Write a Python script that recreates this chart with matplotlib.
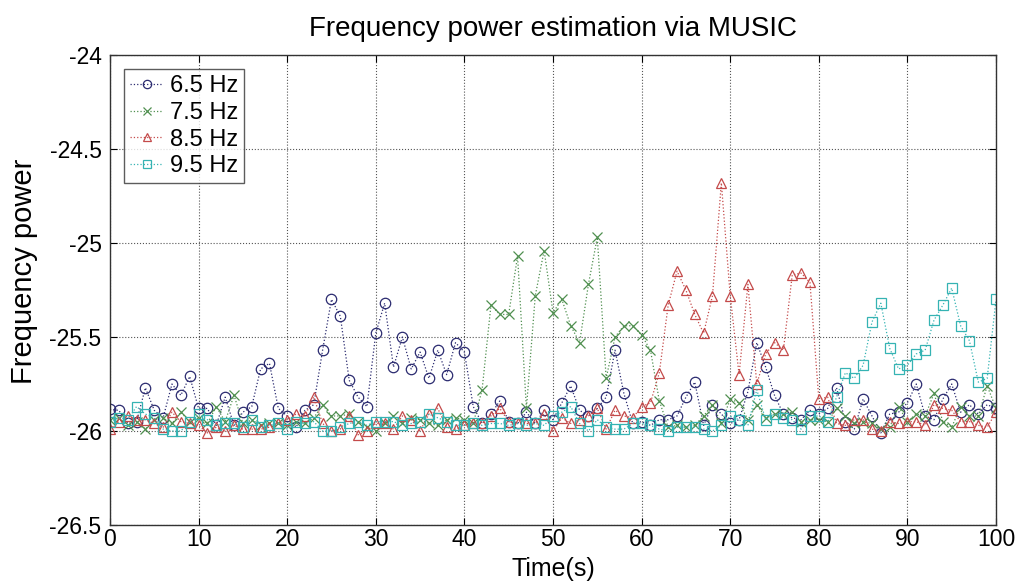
import numpy as np
import matplotlib
matplotlib.use("Agg")
import matplotlib.pyplot as plt

plt.rcParams['font.family'] = ['Liberation Sans', 'DejaVu Sans']

time_s = list(range(0, 101))

power_65 = [
    -25.885, -25.89, -25.96, -25.95, -25.77, -25.89, -25.93, -25.75, -25.81, -25.71,
    -25.88, -25.88, -25.97, -25.82, -25.97, -25.90, -25.87, -25.67, -25.64, -25.88,
    -25.92, -25.98, -25.89, -25.86, -25.57, -25.30, -25.39, -25.73, -25.82, -25.87,
    -25.48, -25.32, -25.66, -25.50, -25.67, -25.58, -25.72, -25.57, -25.70, -25.53,
    -25.58, -25.87, -25.96, -25.91, -25.84, -25.95, -25.96, -25.90, -25.96, -25.89,
    -25.94, -25.85, -25.76, -25.89, -25.92, -25.88, -25.82, -25.57, -25.80, -25.96,
    -25.95, -25.97, -25.94, -25.94, -25.92, -25.82, -25.74, -25.97, -25.86, -25.91,
    -25.96, -25.94, -25.79, -25.53, -25.66, -25.81, -25.91, -25.93, -25.94, -25.89,
    -25.91, -25.88, -25.77, -25.95, -25.99, -25.83, -25.92, -26.01, -25.91, -25.90,
    -25.85, -25.75, -25.92, -25.94, -25.83, -25.75, -25.90, -25.86, -25.91, -25.86,
    -25.88,
]

power_75 = [
    -25.94, -25.93, -25.97, -25.95, -25.99, -25.94, -25.93, -25.96, -25.90, -25.95,
    -25.93, -25.96, -25.87, -25.95, -25.81, -25.96, -25.94, -25.97, -25.96, -25.96,
    -25.97, -25.95, -25.96, -25.93, -25.86, -25.92, -25.92, -25.91, -25.95, -25.98,
    -26.00, -25.96, -25.92, -25.96, -25.93, -25.94, -25.96, -25.97, -25.94, -25.93,
    -25.94, -25.96, -25.78, -25.33, -25.38, -25.38, -25.07, -25.88, -25.28, -25.04,
    -25.37, -25.30, -25.44, -25.53, -25.22, -24.97, -25.72, -25.50, -25.44, -25.44,
    -25.49, -25.57, -25.84, -25.98, -25.97, -25.98, -25.97, -25.92, -25.86, -25.96,
    -25.83, -25.85, -25.94, -25.86, -25.93, -25.91, -25.91, -25.90, -25.95, -25.94,
    -25.94, -25.95, -25.88, -25.92, -25.96, -25.95, -25.96, -25.99, -25.98, -25.87,
    -25.95, -25.91, -25.92, -25.80, -25.95, -25.98, -25.87, -25.92, -25.92, -25.76,
    -25.88,
]

power_85 = [
    -25.99, -25.95, -25.92, -25.94, -25.94, -25.96, -25.98, -25.90, -25.95, -25.96,
    -25.97, -26.01, -25.98, -26.00, -25.97, -25.99, -25.99, -25.99, -25.98, -25.96,
    -25.94, -25.91, -25.92, -25.82, -25.96, -26.00, -25.99, -25.92, -26.02, -26.00,
    -25.96, -25.96, -25.99, -25.92, -25.94, -26.00, -25.91, -25.88, -25.98, -25.99,
    -25.97, -25.96, -25.96, -25.92, -25.88, -25.95, -25.96, -25.96, -25.96, -25.91,
    -26.00, -25.93, -25.96, -25.94, -25.92, -25.88, -25.99, -25.89, -25.92, -25.93,
    -25.87, -25.85, -25.69, -25.33, -25.15, -25.25, -25.38, -25.48, -25.28, -24.68,
    -25.28, -25.70, -25.22, -25.75, -25.59, -25.53, -25.57, -25.17, -25.16, -25.21,
    -25.83, -25.82, -25.96, -25.97, -25.94, -25.94, -25.99, -26.00, -25.95, -25.96,
    -25.95, -25.95, -25.97, -25.86, -25.88, -25.89, -25.95, -25.95, -25.97, -25.98,
    -25.90,
]

power_95 = [
    -25.95, -25.93, -25.94, -25.87, -25.91, -25.93, -25.99, -26.00, -26.00, -25.95,
    -25.91, -25.94, -25.97, -25.96, -25.96, -25.98, -25.94, -25.98, -25.97, -25.96,
    -25.99, -25.95, -25.96, -25.95, -26.00, -26.00, -25.98, -25.96, -25.95, -25.97,
    -25.95, -25.95, -25.95, -25.97, -25.96, -25.95, -25.91, -25.93, -25.95, -25.97,
    -25.97, -25.96, -25.97, -25.96, -25.96, -25.97, -25.96, -25.97, -25.96, -25.97,
    -25.92, -25.90, -25.87, -25.96, -26.00, -25.94, -25.98, -25.99, -25.99, -25.96,
    -25.96, -25.97, -25.99, -26.00, -25.98, -25.98, -25.98, -25.99, -26.00, -25.97,
    -25.92, -25.94, -25.97, -25.78, -25.94, -25.91, -25.93, -25.94, -25.99, -25.92,
    -25.92, -25.95, -25.82, -25.69, -25.72, -25.65, -25.42, -25.32, -25.56, -25.67,
    -25.65, -25.59, -25.57, -25.41, -25.33, -25.24, -25.44, -25.52, -25.74, -25.72,
    -25.30,
]

series_labels = ['6.5 Hz', '7.5 Hz', '8.5 Hz', '9.5 Hz']
x_ticks = list(range(0, 101, 10))
y_ticks = [-26.5, -26, -25.5, -25, -24.5, -24]
y_tick_labels = ['-26.5', '-26', '-25.5', '-25', '-24.5', '-24']

styles = [
    dict(marker='o', color='#2b2b70'),
    dict(marker='x', color='#4f8f4f'),
    dict(marker='^', color='#c44a4a'),
    dict(marker='s', color='#35b3b3'),
]

fig = plt.figure(figsize=(10.2, 5.86), dpi=100)
ax = fig.add_axes([0.1078, 0.1041, 0.8687, 0.8020])

for vals, lab, st in zip([power_65, power_75, power_85, power_95], series_labels, styles):
    ax.plot(time_s, vals, linestyle=':', linewidth=0.9, color=st['color'],
            marker=st['marker'], markersize=7.5, markerfacecolor='none',
            markeredgecolor=st['color'], markeredgewidth=0.9, label=lab)

ax.set_xlim(0, 100)
ax.set_ylim(-26.5, -24)
ax.set_xticks(x_ticks)
ax.set_xticklabels([str(t) for t in x_ticks])
ax.set_yticks(y_ticks)
ax.set_yticklabels(y_tick_labels)
ax.tick_params(direction='in', top=True, right=True, length=5, width=0.8,
               labelsize=16.5)
ax.tick_params(axis='x', pad=2)
ax.tick_params(axis='y', pad=6)
ax.grid(True, linestyle=':', color='#555555', linewidth=0.8)
for sp in ax.spines.values():
    sp.set_linewidth(1.0)
    sp.set_color('#333333')

ax.set_xlabel('Time(s)', fontsize=18, va='top')
ax.xaxis.set_label_coords(0.5, -0.068)
ax.set_ylabel('Frequency power', fontsize=21, va='center')
ax.yaxis.set_label_coords(-0.097, 0.54)
ax.set_title('Frequency power estimation via MUSIC', fontsize=20, pad=14)

leg = ax.legend(loc='upper left', fontsize=17, frameon=True, fancybox=False,
                handlelength=1.4, handletextpad=0.3, borderpad=0.25,
                labelspacing=0.2, borderaxespad=0.6, markerscale=0.8)
leg.get_frame().set_edgecolor('#333333')
leg.get_frame().set_linewidth(1.0)

fig.savefig('out.png', dpi=100)
